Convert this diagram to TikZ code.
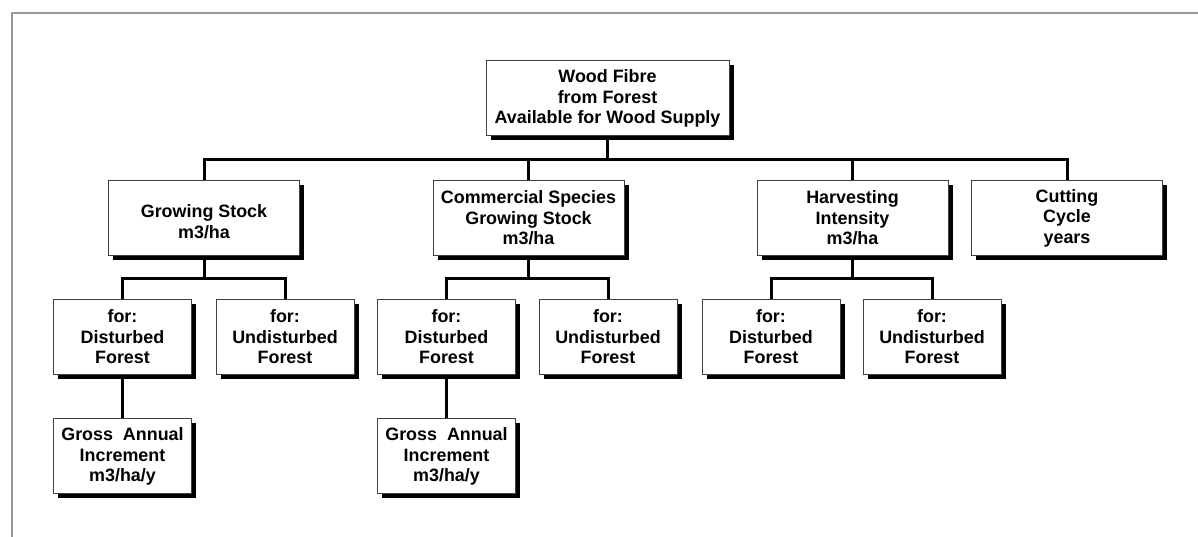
\documentclass[tikz,border=0pt]{standalone}
\usepackage{fontspec}
\setmainfont{Liberation Sans}
\usetikzlibrary{shadows}

\begin{document}
\begin{tikzpicture}[x=1pt,y=1pt,
  box/.style={draw=black!75,line width=1pt,fill=white,align=center,inner sep=0pt,
    minimum height=75pt,font=\bfseries\fontsize{17.9}{20.5}\selectfont,
    drop shadow={shadow xshift=4.5pt,shadow yshift=-4.5pt,fill=black,opacity=1}},
  wide/.style={box,minimum width=191pt},
  small/.style={box,minimum width=138pt},
  link/.style={line width=3pt}]
\useasboundingbox (0,0) rectangle (1198,537);
\draw[black!40,line width=1.5pt] (12,0) -- (12,524) -- (1198,524);
% top
\node[box,minimum width=243pt] (wood) at (607.5,438.5) {Wood Fibre\\from Forest\\Available for Wood Supply};
% first level
\node[wide] (gs) at (204,319) {\mbox{}\\Growing Stock\\m3/ha};
\node[wide] (cs) at (528.5,319) {Commercial Species\\Growing Stock\\m3/ha};
\node[wide] (hi) at (852.5,319) {Harvesting\\Intensity\\m3/ha};
\node[wide] (cc) at (1067,319) {Cutting\\Cycle\\years};
% second level
\node[small] (gsd) at (122.5,200) {for:\\Disturbed\\Forest};
\node[small] (gsu) at (285,200) {for:\\Undisturbed\\Forest};
\node[small] (csd) at (446.5,200) {for:\\Disturbed\\Forest};
\node[small] (csu) at (608,200) {for:\\Undisturbed\\Forest};
\node[small] (hid) at (771,200) {for:\\Disturbed\\Forest};
\node[small] (hiu) at (932,200) {for:\\Undisturbed\\Forest};
% third level
\node[small] (gsg) at (122.5,80.5) {Gross\ \ Annual\\Increment\\m3/ha/y};
\node[small] (csg) at (446.5,80.5) {Gross\ \ Annual\\Increment\\m3/ha/y};
% connectors
\coordinate (bus) at (607.5,377);
\coordinate (sub) at (607.5,258);
\draw[link] (wood.south) -- (bus);
\draw[link] (gs.north) |- (cc.north |- bus) -- (cc.north);
\draw[link] (cs.north) -- (cs.north |- bus);
\draw[link] (hi.north) -- (hi.north |- bus);
\foreach \p/\a/\b in {gs/gsd/gsu,cs/csd/csu,hi/hid/hiu} {
  \draw[link] (\p.south) -- (\p.south |- sub);
  \draw[link] (\a.north) |- (\b.north |- sub) -- (\b.north);
}
\draw[link] (gsd.south) -- (gsg.north);
\draw[link] (csd.south) -- (csg.north);
\end{tikzpicture}
\end{document}
